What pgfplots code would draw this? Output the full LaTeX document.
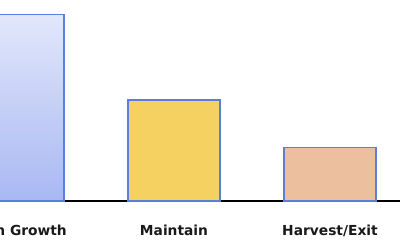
\documentclass[border=0pt]{standalone}
\usepackage{pgfplots}
\pgfplotsset{compat=1.18}
\usepackage{fontspec}
\setmainfont{DejaVu Sans}
\definecolor{edgeblue}{HTML}{5B7FD8}
\definecolor{gtop}{HTML}{E2E7FB}
\definecolor{gbot}{HTML}{A8B8F2}
\definecolor{ymain}{HTML}{F5D162}
\definecolor{sharv}{HTML}{ECC09E}
\begin{document}
\begin{tikzpicture}
\path[use as bounding box, clip] (0,-49pt) rectangle (400pt,201pt);
\begin{axis}[
  at={(0,0)}, anchor=south west,
  scale only axis, width=400pt, height=201pt,
  xmin=0, xmax=400, ymin=0, ymax=201,
  axis x line=bottom, axis y line=none,
  axis line style={black, line width=1.8pt, -},
  ytick=\empty,
  xtick={18,174,330},
  xticklabels={High Growth, Maintain, Harvest/Exit},
  major tick length=0pt,
  xticklabel style={anchor=base, yshift=-34pt, font=\fontsize{13.8}{16}\selectfont\bfseries, text=black!90},
  ybar, bar width=92pt,
  clip=true,
]
\addplot[bar shift=0pt, draw=edgeblue, line width=1.1pt, top color=gtop, bottom color=gbot] coordinates {(18,186.5)};
\addplot[bar shift=0pt, draw=edgeblue, line width=1.1pt, fill=ymain] coordinates {(174,101)};
\addplot[bar shift=0pt, draw=edgeblue, line width=1.1pt, fill=sharv] coordinates {(330,53.5)};
\end{axis}
\end{tikzpicture}
\end{document}
